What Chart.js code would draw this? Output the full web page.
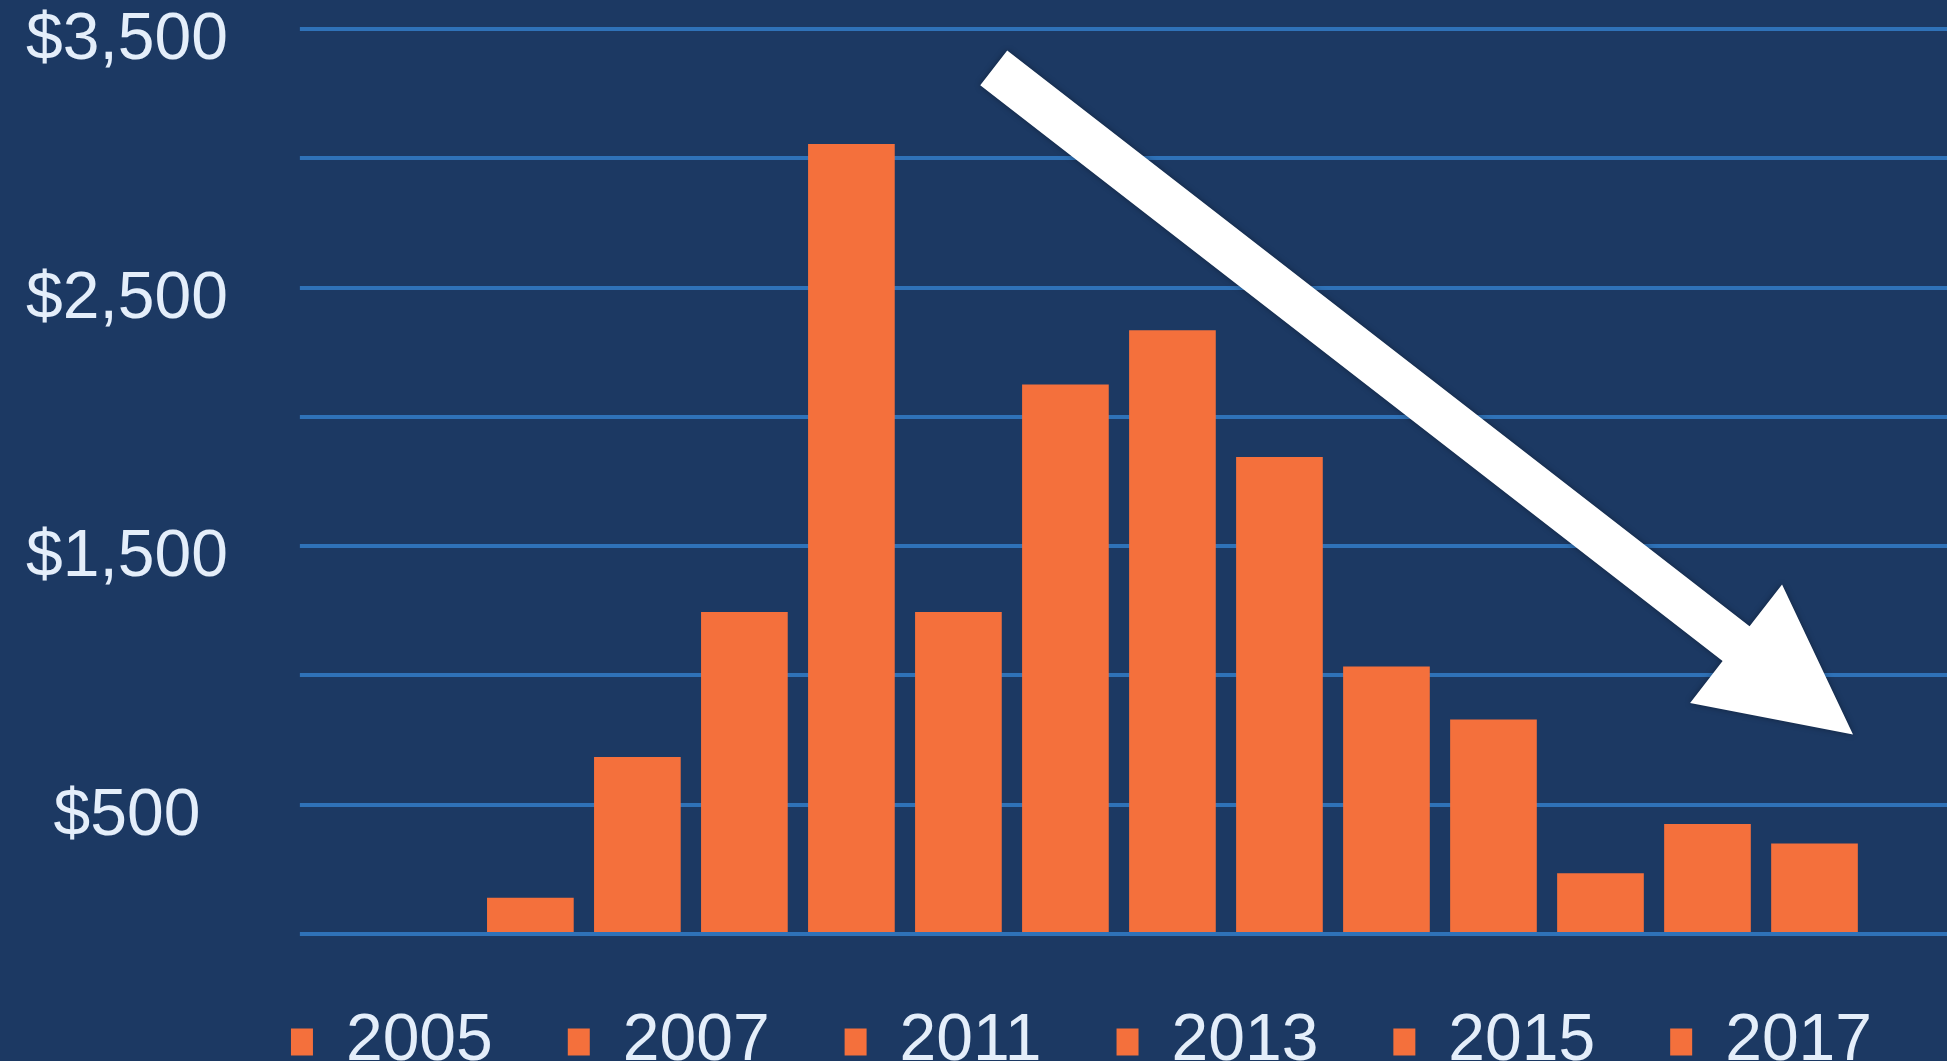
<!DOCTYPE html>
<html>
<head>
<meta charset="utf-8">
<script src="https://cdn.jsdelivr.net/npm/chart.js@4/dist/chart.umd.min.js"></script>
<style>
  html, body { margin: 0; padding: 0; width: 1947px; height: 1061px; overflow: hidden; background: #1c3963; }
  #wrap { position: absolute; left: 0; top: 0; width: 1947px; height: 1085px; }
  canvas { display: block; }
</style>
</head>
<body>
<div id="wrap"><canvas id="chart" width="1947" height="1085"></canvas></div>
<script>
// ---- data ----
const categories = ['2005', '2006', '2007', '2008', '2009', '2010', '2011', '2012', '2013', '2014', '2015', '2016', '2017'];
const values = [140, 685, 1245, 3055, 1245, 2125, 2335, 1845, 1035, 830, 235, 425, 350];
const labelledTicks = [500, 1500, 2500, 3500];
const legendLabels = ['2005', '2007', '2011', '2013', '2015', '2017'];

// ---- styles ----
const BAR = '#f4703c';
const GRID = '#2f72b8';
const TEXT = '#e4eefa';
const FONT = "'Liberation Sans', Arial, Helvetica, sans-serif";

const trendArrow = {
  id: 'trendArrow',
  afterDatasetsDraw(chart, args, opts) {
    const xs = chart.scales.x, ys = chart.scales.y;
    const x1 = xs.getPixelForValue(opts.from.x), y1 = ys.getPixelForValue(opts.from.y);
    const x2 = xs.getPixelForValue(opts.to.x), y2 = ys.getPixelForValue(opts.to.y);
    const dx = x2 - x1, dy = y2 - y1, len = Math.hypot(dx, dy);
    const ux = dx / len, uy = dy / len, nx = -uy, ny = ux;
    const sw = opts.shaftWidth / 2, hw = opts.headWidth / 2, hl = opts.headLength;
    const bx = x2 - ux * hl, by = y2 - uy * hl;
    const ctx = chart.ctx;
    ctx.save();
    ctx.shadowColor = 'rgba(0,0,0,0.35)';
    ctx.shadowBlur = 6;
    ctx.fillStyle = opts.color;
    ctx.beginPath();
    ctx.moveTo(x1 + nx * sw, y1 + ny * sw);
    ctx.lineTo(bx + nx * sw, by + ny * sw);
    ctx.lineTo(bx + nx * hw, by + ny * hw);
    ctx.lineTo(x2, y2);
    ctx.lineTo(bx - nx * hw, by - ny * hw);
    ctx.lineTo(bx - nx * sw, by - ny * sw);
    ctx.lineTo(x1 - nx * sw, y1 - ny * sw);
    ctx.closePath();
    ctx.fill();
    ctx.restore();
  }
};

const yRange = { min: 0, max: 3500 };

new Chart(document.getElementById('chart'), {
  type: 'bar',
  data: {
    labels: categories,
    datasets: [{
      data: values,
      backgroundColor: BAR,
      borderWidth: 0,
      barPercentage: 0.81,
      categoryPercentage: 1.0,
      yAxisID: 'y'
    }]
  },
  plugins: [trendArrow],
  options: {
    responsive: false,
    devicePixelRatio: 1,
    animation: false,
    layout: { padding: { left: 26, top: 29, right: 0, bottom: 0 } },
    scales: {
      x: { type: 'category', display: false, offset: true },
      y: {
        position: 'left', weight: 1,
        min: yRange.min, max: yRange.max,
        ticks: {
          stepSize: 500, autoSkip: false, padding: 0, crossAlign: 'center', labelOffset: 12,
          color: TEXT,
          font: { family: FONT, size: 66, lineHeight: 0.8 },
          callback: (v) => labelledTicks.includes(v) ? '$' + v.toLocaleString('en-US') : ''
        },
        grid: { color: GRID, lineWidth: 4, drawTicks: true, tickLength: 72, tickColor: 'rgba(0,0,0,0)' },
        border: { display: false }
      },
      yExt: {
        position: 'left', weight: 0,
        min: yRange.min, max: yRange.max,
        ticks: { stepSize: 500, display: false },
        grid: { color: GRID, lineWidth: 4, drawOnChartArea: false, drawTicks: true, tickLength: 177 },
        border: { display: false }
      },
      yRight: {
        position: 'right',
        min: yRange.min, max: yRange.max,
        ticks: { stepSize: 500, display: false },
        grid: { color: GRID, lineWidth: 4, drawOnChartArea: false, drawTicks: true, tickLength: 79 },
        border: { display: false }
      }
    },
    plugins: {
      tooltip: { enabled: false },
      legend: {
        display: true,
        position: 'bottom',
        align: 'end',
        onClick: null,
        labels: {
          boxWidth: 22,
          boxHeight: 27,
          padding: 75,
          color: TEXT,
          font: { family: FONT, size: 66 },
          generateLabels: () => legendLabels.map((t) => ({
            text: t, fillStyle: BAR, strokeStyle: BAR, lineWidth: 0,
            fontColor: TEXT, hidden: false
          }))
        }
      },
      trendArrow: {
        from: { x: 4.33, y: 3350 },
        to: { x: 12.36, y: 772 },
        shaftWidth: 44, headLength: 148, headWidth: 150,
        color: '#ffffff'
      }
    }
  }
});
</script>
</body>
</html>
